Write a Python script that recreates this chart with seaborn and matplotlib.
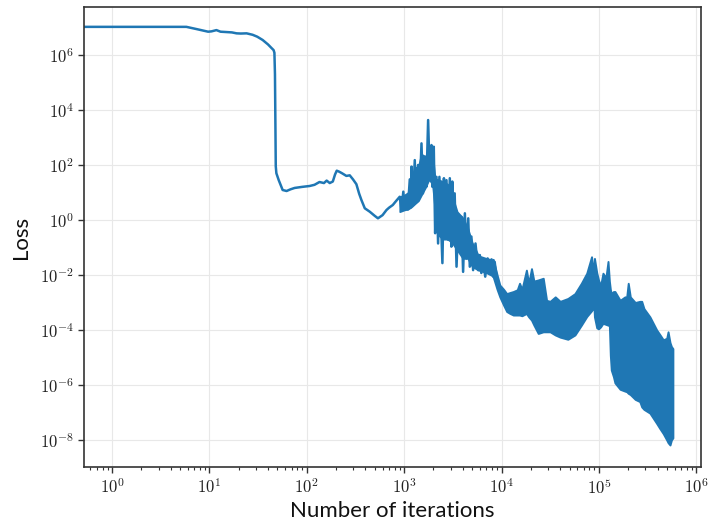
import numpy as np
import pandas as pd
import matplotlib
matplotlib.use("Agg")
import matplotlib.pyplot as plt
import matplotlib.ticker as mticker
import seaborn as sns

# smooth part of the loss curve
line_iters = [0.45, 5.8, 7.5, 9.7, 10.5, 11.8, 13.0, 14.9, 17.0, 19.0, 21.0, 24.1, 27.8,
              31.0, 35.2, 40.0, 43.3, 45.6, 46.5, 47.1, 47.6, 48.0, 48.7, 51.5, 56.5,
              62.0, 68.0, 75.0, 90.0, 107.0, 120.0, 135.0, 150.0, 160.0, 172.0, 185.0, 195.0,
              203.0, 215.0, 230.0, 255.0, 276.0, 298.0, 323.0, 345.0, 364.0, 394.0, 443.0,
              500.0, 538.0, 600.0, 658.0, 700.0, 764.0, 830.0, 901.0]
line_loss = [1.05e7, 1.05e7, 8.6e6, 7.0e6, 7.2e6, 8.0e6, 7.0e6, 6.8e6, 6.6e6, 6.1e6,
             6.0e6, 6.1e6, 5.4e6, 4.6e6, 3.5e6, 2.4e6, 1.8e6, 1.5e6, 1.2e6, 2.0e5,
             3.0e3, 90.0, 50.0, 28.0, 12.3, 11.3, 13.0, 14.6, 16.0, 17.2, 19.0, 24.0, 22.0,
             27.0, 22.0, 25.0, 45.0, 62.0, 57.0, 50.0, 40.0, 42.0, 30.0, 20.0, 9.0, 5.3, 2.66,
             2.0, 1.4, 1.15, 1.5, 2.3, 2.8, 3.5, 5.0, 7.0]

# spiky part between 1e3 and 1e4 (alternating highs and lows)
spike_iters = [938, 980, 1010, 1057, 1090, 1142, 1165, 1190, 1230, 1285, 1320, 1390, 1440,
               1506, 1560, 1629, 1690, 1762, 1830, 1907, 1950, 2014, 2080, 2146, 2230, 2300,
               2470, 2560, 2613, 2720, 2830, 2942, 3054, 3120, 3183, 3300, 3450, 3600, 3726,
               3880, 4030, 4200, 4366, 4550, 4720, 4900, 5105, 5400, 5750, 5985, 6200, 6470,
               6800, 7200, 7585, 7900, 8200, 8500, 8880]
spike_loss = [2.3, 10.7, 2.4, 6.1, 2.4, 30.0, 2.8, 87.0, 4.0, 150.0, 5.3, 100.0, 6.5,
              610.0, 9.3, 200.0, 16.0, 4300.0, 37.0, 530.0, 16.0, 460.0, 0.33, 37.0, 0.14,
              37.0, 0.027, 33.0, 0.25, 28.0, 0.19, 33.0, 0.107, 25.0, 0.25, 9.3, 0.02, 1.3,
              0.19, 1.3, 0.013, 1.75, 0.04, 1.15, 0.02, 0.25, 0.015, 0.14, 0.015, 0.053,
              0.0118, 0.035, 0.0087, 0.04, 0.0116, 0.037, 0.0087, 0.03, 0.0087]

# solid core of the spiky part
core_iters = [900, 1000, 1100, 1190, 1300, 1400, 1500, 1650, 1800, 1950, 2080, 2200, 2500,
              2800, 3100, 3500, 4000, 4500, 5000, 5800, 7000, 8200]
core_lower = [2.0, 2.3, 2.5, 3.0, 4.0, 5.0, 8.0, 15.0, 30.0, 20.0, 2.0, 0.3, 0.2, 0.2,
              0.15, 0.08, 0.04, 0.04, 0.02, 0.015, 0.012, 0.009]
core_upper = [7.0, 8.0, 10.0, 40.0, 80.0, 90.0, 250.0, 200.0, 400.0, 300.0, 30.0, 30.0,
              25.0, 20.0, 8.0, 2.0, 1.2, 0.5, 0.15, 0.05, 0.04, 0.035]

# dense oscillating band after 1e4: upper and lower envelope
band_iters = [8200, 9000, 9600, 10500, 11300, 12200, 13200, 14500, 15300, 16200, 18000,
              19000, 20300, 21500, 23800, 26800, 29000, 31500, 35600, 40000, 48000, 56700,
              66000, 75000, 84000, 86500, 88500, 90000, 95000, 99000, 104000, 110000,
              118000, 124000, 128000, 131000, 134000, 141000, 146000, 165000, 185000,
              193000, 200000, 210000, 236000, 263000, 275000, 290000, 334000, 392000,
              420000, 458000, 497000, 513000, 537000, 555000, 575000]
band_upper = [0.037, 0.01, 0.0043, 0.003, 0.0021, 0.0023, 0.0025, 0.0029, 0.005, 0.003,
              0.015, 0.005, 0.017, 0.006, 0.0066, 0.0076, 0.0012, 0.0011, 0.0016, 0.0011,
              0.0014, 0.0021, 0.005, 0.0116, 0.046, 0.02, 0.01, 0.04, 0.012, 0.0066, 0.004,
              0.0116, 0.008, 0.031, 0.006, 0.003, 0.0021, 0.0025, 0.0025, 0.0012, 0.0016,
              0.0016, 0.005, 0.0016, 0.001, 0.0011, 0.0011, 6e-4, 3e-4, 1e-4, 7e-5, 4.4e-5,
              5e-5, 8.6e-5, 3.5e-5, 2.5e-5, 2.1e-5]
band_lower = [0.0087, 0.003, 0.0016, 8e-4, 4.7e-4, 4e-4, 3.5e-4, 3.5e-4, 3.5e-4, 3.3e-4,
              4e-4, 3e-4, 2.3e-4, 1.5e-4, 7.5e-5, 8.6e-5, 8.6e-5, 8.6e-5, 6.6e-5, 5.5e-5,
              4.6e-5, 6.6e-5, 1.5e-4, 3.1e-4, 5e-4, 6e-4, 1e-3, 3e-4, 1.2e-4, 1.1e-4, 1.3e-4,
              1.75e-4, 1.6e-4, 1.5e-4, 1.5e-4, 1.2e-5, 3.5e-6, 2e-6, 1.2e-6, 7e-7, 6e-7,
              5.7e-7, 5e-7, 4.5e-7, 3e-7, 2.5e-7, 1.6e-7, 1.3e-7, 9.5e-8, 4e-8, 2.7e-8,
              1.7e-8, 1e-8, 8e-9, 6.6e-9, 1e-8, 1.2e-8]

x_ticks = [1e0, 1e1, 1e2, 1e3, 1e4, 1e5, 1e6]
y_ticks = [1e-8, 1e-6, 1e-4, 1e-2, 1e0, 1e2, 1e4, 1e6]

blue = "#1f77b4"

sns.set_style("ticks")
plt.rcParams["mathtext.fontset"] = "cm"
plt.rcParams["font.family"] = ["Lato", "DejaVu Sans"]

df = pd.DataFrame({"iters": line_iters + spike_iters,
                   "loss": line_loss + spike_loss})

fig = plt.figure(figsize=(7.1, 5.21), dpi=100)
ax = fig.add_axes([0.1183, 0.1042, 0.8686, 0.8818])

sns.lineplot(data=df, x="iters", y="loss", ax=ax, color=blue, lw=1.8,
             estimator=None, sort=False)
ax.fill_between(core_iters, core_lower, core_upper, color=blue, lw=1.2,
                edgecolor=blue)
ax.fill_between(band_iters, band_lower, band_upper, color=blue, lw=1.4,
                edgecolor=blue)

ax.set_xscale("log")
ax.set_yscale("log")
ax.set_xlim(0.515, 1.11e6)
ax.set_ylim(1.07e-9, 5.4e7)

# tick labels in Computer Modern, like the LaTeX original
pow_fmt = mticker.FuncFormatter(lambda v, pos: r"$10^{%d}$" % round(np.log10(v)))
ax.set_xticks(x_ticks)
ax.xaxis.set_major_formatter(pow_fmt)
ax.xaxis.set_minor_locator(mticker.LogLocator(base=10, subs=np.arange(2, 10), numticks=20))
ax.xaxis.set_minor_formatter(mticker.NullFormatter())
ax.set_yticks(y_ticks)
ax.yaxis.set_major_formatter(pow_fmt)
ax.yaxis.set_minor_locator(mticker.NullLocator())

ax.grid(True, which="major", color="#e8e8e8", lw=0.8)
ax.set_axisbelow(True)
for s in ax.spines.values():
    s.set_color("#333333")
    s.set_linewidth(1.2)

ax.tick_params(axis="both", which="major", direction="out", length=4, width=1,
               color="#333333", labelsize=12, labelcolor="#222222")
ax.tick_params(axis="x", which="minor", direction="out", length=2.5, width=0.8,
               color="#333333")

ax.set_xlabel("Number of iterations", fontsize=16, color="#111111", labelpad=3)
ax.set_ylabel("Loss", fontsize=16, color="#111111", labelpad=6)

fig.savefig("out.png", dpi=100)
